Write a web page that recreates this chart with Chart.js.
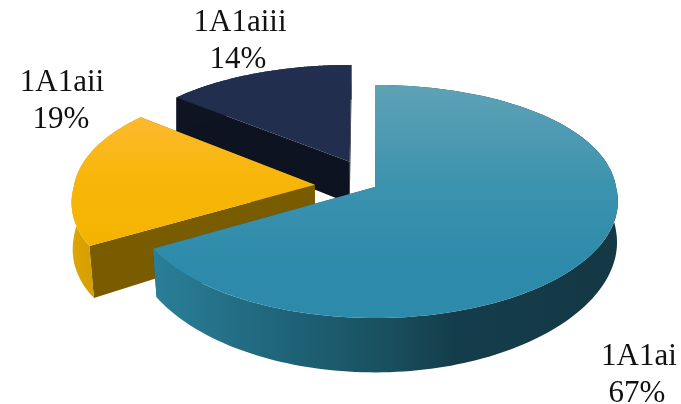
<!DOCTYPE html>
<html>
<head>
<meta charset="utf-8">
<style>
    html, body { margin: 0; padding: 0; background: #ffffff; }
    canvas { display: block; }
</style>
<script src="https://cdn.jsdelivr.net/npm/chart.js@4"></script>
</head>
<body>
<canvas id="pieChart" width="681" height="404"></canvas>
<script>
// data
let categories = ['1A1ai', '1A1aii', '1A1aiii'];
let shares = [66.6, 19.4, 14];
let percentLabels = ['67%', '19%', '14%'];

// 3d look: disc radii on screen, perspective strength, thickness
let view = {
    rx : 241, ry : 114.7,
    persp : 0.1244, perspBackX : 0.075,
    depth : 43.7, depthPow : 1.65, edgeGrow : 0.64,
    bottomShrink : 0.033
};

let sliceStyles = [
    {
        top : [[0, '#5fa2b6'], [0.45, '#3a92ae'], [0.8, '#2d8aaa'], [1, '#2d8aaa']],
        wall : [[0, '#2b7f99'], [0.3, '#1e6277'], [0.5, '#19505f'], [0.65, '#143d4b'], [1, '#143844']],
        cut : '#1b4f60'
    },
    {
        top : [[0, '#fdb92f'], [0.45, '#f8b60a'], [1, '#f5b300']],
        wall : [[0, '#dda600'], [0.12, '#d29c00'], [1, '#7a5c00']],
        cut : '#7a5c00'
    },
    {
        top : [[0, '#232f50'], [1, '#222e4e']],
        wall : [[0, '#0e1421'], [1, '#0e1421']],
        cut : '#0d1320'
    }
];

let labelSpots = [
    { x : 639, y : 365, px : 637 },
    { x : 62, y : 91, px : 61 },
    { x : 240, y : 31, px : 238 }
];

function project(arc, u, v, bottom){
    let w = 1 - view.persp * v;
    // the far half of the disc narrows less than it flattens
    let wx = v < 0 ? 1 - view.perspBackX * v : w;
    let shrink = 1;
    let drop = 0;
    if(bottom){
        shrink = 1 - view.bottomShrink * Math.max(0, v);
        drop = view.depth / Math.pow(w, view.depthPow);
        drop *= 1 + view.edgeGrow * Math.max(0, Math.abs(u) - 1);
    }
    return {
        x : arc.x + view.rx * u / wx * shrink,
        y : arc.y + view.ry * v / w + drop
    };
}

function makeGradient(ctx, x0, y0, x1, y1, stops){
    let gradient = ctx.createLinearGradient(x0, y0, x1, y1);
    stops.forEach((s)=>{ gradient.addColorStop(s[0], s[1]); });
    return gradient;
}

function fillPoly(ctx, points, fill){
    ctx.beginPath();
    points.forEach((p, i)=>{
        if(i == 0){ ctx.moveTo(p.x, p.y); }
        else{ ctx.lineTo(p.x, p.y); }
    });
    ctx.closePath();
    ctx.fillStyle = fill;
    ctx.fill();
}

function drawSlice(ctx, arc, style){
    let offset = arc.options.offset / 4 / arc.outerRadius;
    let mid = (arc.startAngle + arc.endAngle) / 2;
    let du = Math.cos(mid) * offset;
    let dv = Math.sin(mid) * offset;

    let rimTop = [];
    let rimBottom = [];
    for(let i = 0; i <= 160; i++){
        let angle = arc.startAngle + (arc.endAngle - arc.startAngle) * i / 160;
        let u = du + Math.cos(angle);
        let v = dv + Math.sin(angle);
        rimTop.push(project(arc, u, v, false));
        rimBottom.push(project(arc, u, v, true));
    }
    let apexTop = project(arc, du, dv, false);
    let apexBottom = project(arc, du, dv, true);

    let xs = rimTop.map((p)=>p.x).concat(apexTop.x);
    let ys = rimTop.map((p)=>p.y);
    let minX = Math.min.apply(null, xs);
    let maxX = Math.max.apply(null, xs);
    let minY = Math.min.apply(null, ys);
    let maxY = Math.max.apply(null, ys);

    // cut faces
    fillPoly(ctx, [apexTop, rimTop[0], rimBottom[0], apexBottom], style.cut);
    fillPoly(ctx, [apexTop, rimTop[160], rimBottom[160], apexBottom], style.cut);

    // outer wall
    let wall = rimTop.concat(rimBottom.slice().reverse());
    fillPoly(ctx, wall, makeGradient(ctx, minX, 0, maxX, 0, style.wall));

    // top face
    let face = [apexTop].concat(rimTop);
    fillPoly(ctx, face, makeGradient(ctx, 0, minY, 0, maxY, style.top));
}

let pie3d = {
    id : 'pie3d',
    beforeDatasetsDraw(chart){
        let ctx = chart.ctx;
        let arcs = chart.getDatasetMeta(0).data;
        // back slices first
        for(let i = arcs.length - 1; i >= 0; i--){
            drawSlice(ctx, arcs[i], sliceStyles[i]);
        }
        return false;
    },
    afterDraw(chart){
        let ctx = chart.ctx;
        ctx.save();
        ctx.fillStyle = '#111111';
        ctx.font = '31px "Liberation Serif"';
        ctx.textAlign = 'center';
        ctx.textBaseline = 'alphabetic';
        categories.forEach((name, i)=>{
            let spot = labelSpots[i];
            ctx.fillText(name, spot.x, spot.y);
            ctx.fillText(percentLabels[i], spot.px, spot.y + 37);
        });
        ctx.restore();
    }
};

let chart = new Chart(document.getElementById('pieChart').getContext('2d'), {
    type : 'pie',
    data : {
        labels : categories,
        datasets : [{
            data : shares,
            backgroundColor : ['#2d8aaa', '#f5b300', '#222e4e'],
            offset : [0, 125, 125],
            borderWidth : 0
        }]
    },
    options : {
        responsive : false,
        animation : false,
        events : [],
        layout : {
            padding : { left : 69, right : 0, top : 0, bottom : 30 }
        },
        plugins : {
            legend : { display : false },
            tooltip : { enabled : false }
        }
    },
    plugins : [pie3d]
});
</script>
</body>
</html>
